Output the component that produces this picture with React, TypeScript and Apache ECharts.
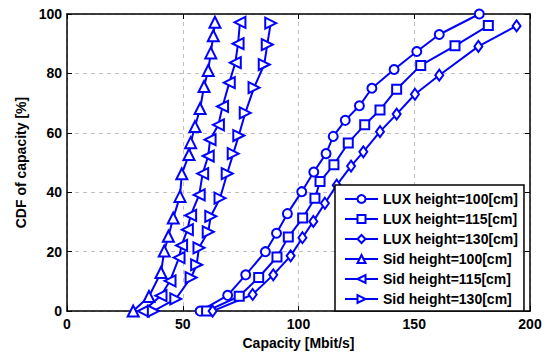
import React, { useEffect, useRef } from "react";
import * as echarts from "echarts";

const xTicks = [0, 50, 100, 150, 200];
const yTicks = [0, 20, 40, 60, 80, 100];

const seriesNames = [
  "LUX height=100[cm]",
  "LUX height=115[cm]",
  "LUX height=130[cm]",
  "Sid height=100[cm]",
  "Sid height=115[cm]",
  "Sid height=130[cm]",
];

const lux100X = [57.5, 69.4, 77.2, 85.7, 90.5, 95.2, 101.4, 106.6, 111.9, 115.0, 120.2, 126.3, 131.7, 141.3, 151.1, 160.8, 178.1];
const lux100Y = [0, 5.3, 12.2, 20, 26.2, 32.8, 40.2, 46.8, 53, 58.8, 64.2, 69.1, 75, 81.3, 87.4, 93.1, 100];

const lux115X = [60.3, 74.4, 82.8, 90.7, 95.6, 101.8, 107.1, 109.3, 115.3, 121.5, 128.6, 135.2, 142.4, 152.8, 167.6, 182.0];
const lux115Y = [0, 5, 11.3, 18.2, 24.9, 31.3, 38, 43.6, 49.3, 56.6, 62.7, 67.7, 74.7, 82.7, 89.3, 96.1];

const lux130X = [62.9, 80.2, 89.1, 96.6, 101.7, 106.4, 111.4, 116.5, 122.7, 128.0, 135.2, 142.4, 150.3, 160.8, 177.7, 194.2];
const lux130Y = [0, 5.6, 12.2, 18.6, 24.7, 30.2, 36.3, 42.4, 48.8, 53.6, 60.4, 66.3, 73, 79.4, 89.1, 96];

const sid100X = [28.6, 35.4, 40.6, 42.0, 43.8, 45.9, 48.8, 49.6, 52.7, 53.4, 55.3, 57.5, 59.2, 61.0, 62.1, 63.2, 63.9];
const sid100Y = [0, 4.9, 13, 20.2, 25.2, 31.3, 38.6, 46.2, 52.7, 56.7, 62.1, 68.2, 75.6, 81, 86.9, 92.7, 97.2];

const sid115X = [32.9, 40.6, 44.5, 48.4, 49.5, 52.0, 53.4, 57.1, 58.6, 61.0, 61.8, 65.4, 67.2, 70.1, 72.7, 73.9, 74.7];
const sid115Y = [0, 5.2, 10.2, 18, 22.1, 27.4, 32.2, 39.1, 46.3, 52.2, 57.7, 62.7, 68.9, 76.9, 83.6, 90, 97.2];

const sid130X = [37.3, 47.0, 53.6, 56.0, 57.0, 61.0, 62.1, 66.1, 69.2, 71.8, 74.2, 77.0, 80.8, 85.2, 86.5, 88.0];
const sid130Y = [0, 4.1, 11.3, 15.6, 21.3, 26.7, 31.9, 38, 46.3, 53, 59.1, 66.7, 75.2, 83, 89.7, 96.9];

const zip = (xs: number[], ys: number[]) => xs.map((x, i) => [x, ys[i]]);

export default function App() {
  const ref = useRef<HTMLDivElement>(null);
  useEffect(() => {
    if (!ref.current) return;
    const chart = echarts.init(ref.current, null, { renderer: "svg" });
    const blue = "#0000ff";
    const font = "'Liberation Sans', Arial, sans-serif";
    const mk = (name: string, data: number[][], symbol: string, size: any, rotate = 0) => ({
      name,
      type: "line",
      data,
      symbol,
      symbolSize: size,
      symbolRotate: rotate,
      showAllSymbol: true,
      lineStyle: { color: blue, width: 2 },
      itemStyle: { color: blue, borderColor: blue, borderWidth: 1.6 },
      emphasis: { disabled: true },
      xAxisIndex: 0,
      yAxisIndex: 0,
      z: 3,
    });
    const axisLine = { show: true, onZero: false, lineStyle: { color: "#000", width: 1.5 } };
    const tick = { show: true, inside: true, length: 5, lineStyle: { color: "#000", width: 1 } };
    const label = { color: "#000", fontSize: 14, fontWeight: "bold", fontFamily: font };
    chart.setOption({
      animation: false,
      backgroundColor: "#fff",
      grid: { left: 67, right: 20, top: 14, bottom: 41, containLabel: false },
      legend: {
        data: seriesNames,
        orient: "vertical",
        left: 335,
        top: 185,
        padding: [7, 6, 5, 9],
        itemWidth: 33,
        itemHeight: 10,
        itemGap: 6,
        backgroundColor: "#fff",
        borderColor: "#000",
        borderWidth: 1.5,
        borderRadius: 0,
        textStyle: { color: "#000", fontSize: 14, fontWeight: "bold", fontFamily: font, lineHeight: 14 },
      },
      xAxis: [
        {
          type: "value",
          min: 0,
          max: 200,
          interval: 50,
          position: "bottom",
          axisLine,
          axisTick: tick,
          axisLabel: { ...label, margin: 6 },
          splitLine: { show: true, lineStyle: { color: "#c0c0c0", type: [4, 4], width: 1 } },
          name: "Capacity [Mbit/s]",
          nameLocation: "middle",
          nameGap: 22,
          nameTextStyle: { ...label },
        },
        {
          type: "value",
          min: 0,
          max: 200,
          interval: 50,
          position: "top",
          axisLine,
          axisTick: tick,
          axisLabel: { show: false },
          splitLine: { show: false },
        },
      ],
      yAxis: [
        {
          type: "value",
          min: 0,
          max: 100,
          interval: 20,
          position: "left",
          axisLine,
          axisTick: tick,
          axisLabel: { ...label, margin: 5 },
          splitLine: { show: true, lineStyle: { color: "#c0c0c0", type: [4, 4], width: 1 } },
          name: "CDF of capacity [%]",
          nameLocation: "middle",
          nameGap: 36,
          nameTextStyle: { ...label },
        },
        {
          type: "value",
          min: 0,
          max: 100,
          interval: 20,
          position: "right",
          axisLine,
          axisTick: tick,
          axisLabel: { show: false },
          splitLine: { show: false },
        },
      ],
      series: [
        mk(seriesNames[0], zip(lux100X, lux100Y), "emptyCircle", 9),
        mk(seriesNames[1], zip(lux115X, lux115Y), "emptyRect", 9),
        mk(seriesNames[2], zip(lux130X, lux130Y), "emptyDiamond", [8, 11]),
        mk(seriesNames[3], zip(sid100X, sid100Y), "emptyTriangle", 11),
        mk(seriesNames[4], zip(sid115X, sid115Y), "emptyTriangle", 11, 90),
        mk(seriesNames[5], zip(sid130X, sid130Y), "emptyTriangle", 11, -90),
      ],
    });
    return () => chart.dispose();
  }, []);
  return <div ref={ref} style={{ width: 550, height: 355, position: "absolute", left: 0, top: 0 }} />;
}
